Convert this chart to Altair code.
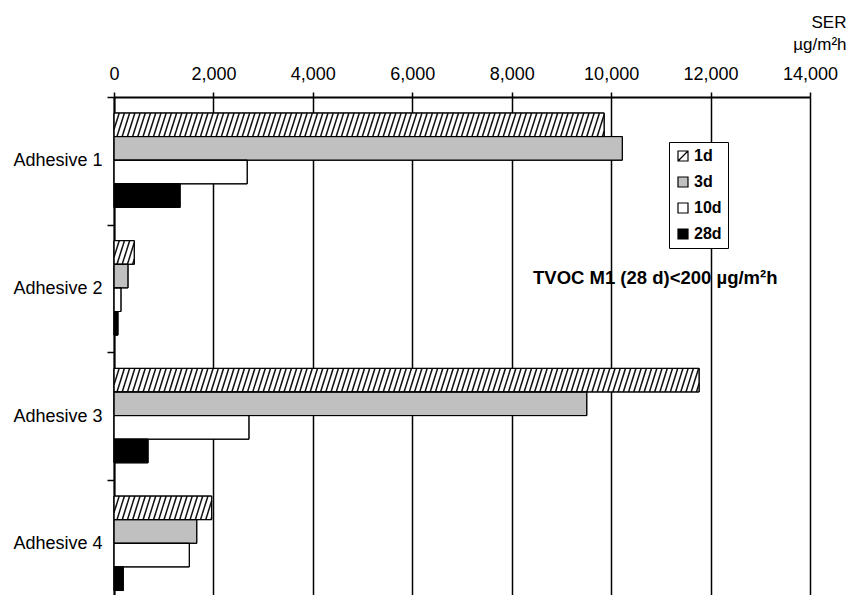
import altair as alt
import pandas as pd

# ---------------- data ----------------
categories = ["Adhesive 1", "Adhesive 2", "Adhesive 3", "Adhesive 4"]
series = ["1d", "3d", "10d", "28d"]
ser_1d = [9860, 408, 11770, 1965]
ser_3d = [10225, 282, 9510, 1665]
ser_10d = [2680, 141, 2715, 1515]
ser_28d = [1330, 80, 685, 187]
x_ticks = [0, 2000, 4000, 6000, 8000, 10000, 12000, 14000]
note_text = "TVOC M1 (28 d)<200 \u00b5g/m\u00b2h"
x_title = ["SER", "\u00b5g/m\u00b2h"]

# ---------------- styling ----------------
FONT = "Liberation Sans, Arial, Helvetica, sans-serif"
fills = ["white", "#c0c0c0", "white", "black"]
SQ = "M-1,-1H1V1H-1Z"
SQ_HATCH = "M-1,-1H1V1H-1Z M-1,1L1,-1"
shapes = [SQ_HATCH, SQ, SQ, SQ]

OFF = 0.125   # offset of first bar inside a category band
BH = 0.185    # bar thickness (band units)
S = 105       # hatch spacing (x units)
D = 150       # hatch horizontal shift over the bar thickness (x units)

values_by_series = [ser_1d, ser_3d, ser_10d, ser_28d]
rows = []
for si, s in enumerate(series):
    for ci, c in enumerate(categories):
        rows.append({"category": c, "series": s, "value": values_by_series[si][ci],
                     "ci": ci, "si": si})
df = pd.DataFrame(rows)

xs = alt.Scale(domain=[0, 14000], nice=False, zero=True)
ys = alt.Scale(domain=[0, 3.9], reverse=True, nice=False, zero=False)

cat_array = "[" + ",".join("'" + c + "'" for c in categories) + "]"
half_values = [i * 0.5 for i in range(8)]

x_axis = alt.Axis(
    orient="top", values=x_ticks, labelExpr="format(datum.value, ',.0f')", labelFlush=False,
    labelFont=FONT, labelFontSize=18, labelColor="black", labelPadding=9,
    tickSize=5, tickColor="black", tickWidth=1.5,
    domainColor="black", domainWidth=2,
    grid=True, gridColor="black", gridWidth=1.5, gridOpacity=1,
    title=x_title, titleX=732, titleY=-70, titleAlign="right",
    titleBaseline="alphabetic", titleFontWeight="normal", titleFontSize=17,
    titleFont=FONT, titleColor="black", titleLineHeight=22, titleAngle=0,
)
y_axis = alt.Axis(
    orient="left", values=half_values,
    labelExpr="datum.value % 1 == 0.5 ? " + cat_array + "[floor(datum.value)] : ''",
    tickOpacity={"condition": {"test": "datum.value % 1 == 0", "value": 1}, "value": 0},
    tickSize=7, tickColor="black", tickWidth=1.5,
    domainColor="black", domainWidth=2, grid=False,
    labelFont=FONT, labelFontSize=18, labelColor="black", labelPadding=5,
    labelBaseline="middle", title=None,
)

legend = alt.Legend(
    title=None, orient="none", legendX=555, legendY=45, direction="vertical",
    padding=6, rowPadding=10, fillColor="white", strokeColor="black",
    labelFont=FONT, labelFontSize=16, labelFontWeight="bold", labelColor="black",
    labelOffset=3, symbolSize=100, symbolStrokeWidth=1.2,
    symbolOpacity=1,
)

base = alt.Chart(df).transform_calculate(
    y0=f"datum.ci + {OFF} + datum.si * {BH}",
    y1=f"datum.ci + {OFF} + (datum.si + 1) * {BH}",
    zero="0",
)

bars = base.mark_rect(stroke="black", strokeWidth=1).encode(
    x=alt.X("zero:Q", scale=xs, axis=x_axis),
    x2="value:Q",
    y=alt.Y("y0:Q", scale=ys, axis=y_axis),
    y2="y1:Q",
    fill=alt.Fill("series:N", scale=alt.Scale(domain=series, range=fills), legend=None),
)

hatch = (
    alt.Chart(df)
    .transform_filter(alt.datum.series == series[0])
    .transform_calculate(
        y0=f"datum.ci + {OFF} + datum.si * {BH}",
        y1=f"datum.ci + {OFF} + (datum.si + 1) * {BH}",
        n=f"ceil((datum.value + {D}) / {S})",
    )
    .transform_calculate(ks="sequence(0, datum.n + 1)")
    .transform_flatten(["ks"])
    .transform_calculate(xb=f"datum.ks * {S} - {D}")
    .transform_calculate(
        xs="max(datum.xb, 0)",
        xe=f"min(datum.xb + {D}, datum.value)",
    )
    .transform_calculate(
        ys=f"datum.y1 - (datum.xs - datum.xb) / {D} * (datum.y1 - datum.y0)",
        ye=f"datum.y1 - (datum.xe - datum.xb) / {D} * (datum.y1 - datum.y0)",
    )
    .transform_filter("datum.xe > datum.xs")
    .mark_rule(stroke="#111111", strokeWidth=1.5)
    .encode(
        x=alt.X("xs:Q", scale=xs, axis=x_axis),
        x2="xe:Q",
        y=alt.Y("ys:Q", scale=ys, axis=y_axis),
        y2="ye:Q",
    )
)

outline = base.mark_rect(fill="white", fillOpacity=0, stroke="black", strokeWidth=1).encode(
    x=alt.X("zero:Q", scale=xs, axis=x_axis),
    x2="value:Q",
    y=alt.Y("y0:Q", scale=ys, axis=y_axis),
    y2="y1:Q",
)

pts = base.mark_point(filled=False, opacity=0, stroke="black", strokeWidth=1.2).encode(
    x=alt.X("zero:Q", scale=xs, axis=x_axis),
    y=alt.Y("y0:Q", scale=ys, axis=y_axis),
    fill=alt.Fill("series:N", scale=alt.Scale(domain=series, range=fills), legend=legend),
    shape=alt.Shape("series:N", scale=alt.Scale(domain=series, range=shapes), legend=legend),
)

note = alt.Chart(pd.DataFrame({"t": [note_text]})).mark_text(
    align="left", baseline="middle", font=FONT, fontSize=18.5, fontWeight="bold", color="black"
).encode(x=alt.value(419), y=alt.value(181), text="t:N")

chart = (
    alt.layer(bars, hatch, outline, pts, note)
    .resolve_scale(fill="independent", shape="independent")
    .properties(
        width=696, height=498,
        autosize=alt.AutoSizeParams(type="none"),
        padding={"left": 106, "top": 89, "right": 41, "bottom": 0},
    )
    .configure_view(stroke=None)
)

chart.save("out.html", embed_options={"renderer": "svg", "actions": False})
